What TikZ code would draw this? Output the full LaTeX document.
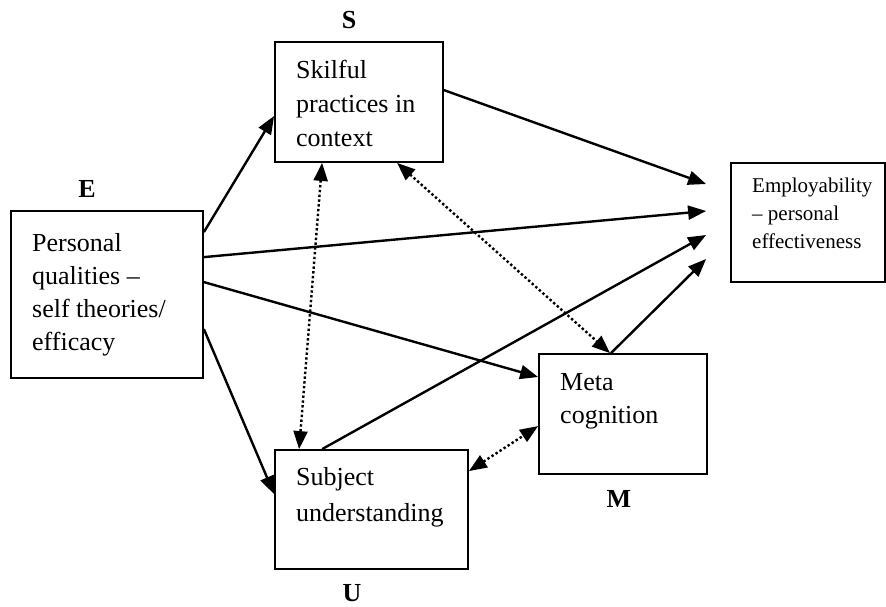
\documentclass[tikz,border=0pt]{standalone}
\usepackage{fontspec}
\setmainfont{Liberation Serif}
\usetikzlibrary{arrows.meta}
\begin{document}
\begin{tikzpicture}[x=1pt,y=-1pt,
  box/.style={draw,line width=1.8pt,inner sep=0pt,rectangle},
  txt/.style={inner sep=0pt,anchor=north west,align=left,font=\fontsize{26}{34}\selectfont},
  smalltxt/.style={inner sep=0pt,anchor=north west,align=left,font=\fontsize{21}{28}\selectfont},
  lbl/.style={inner sep=0pt,anchor=base,font=\fontsize{26}{34}\selectfont\bfseries},
  arr/.style={line width=2.4pt,-{Triangle[length=18pt,width=14pt]}},
  darr/.style={line width=2.4pt,dash pattern=on 2.4pt off 2.4pt,{Triangle[length=18pt,width=14pt]}-{Triangle[length=18pt,width=14pt]}}
]
\useasboundingbox (0,0) rectangle (886,606);
% boxes
\node[box,minimum width=168pt,minimum height=120pt] (S) at (359,102) {};
\node[box,minimum width=192pt,minimum height=167pt] (E) at (107,294.5) {};
\node[box,minimum width=154pt,minimum height=119pt] (P) at (808,222.5) {};
\node[box,minimum width=168pt,minimum height=120pt] (M) at (623,414) {};
\node[box,minimum width=193pt,minimum height=119pt] (U) at (371.5,509.5) {};
% texts
\node[txt] (St) at (296,60.2) {Skilful\\practices in\\context};
\node[txt,font=\fontsize{26}{33}\selectfont] (Et) at (32,233.2) {Personal\\qualities --\\self theories/\\efficacy};
\node[smalltxt] (Pt) at (752,177.7) {Employability\\-- personal\\effectiveness};
\node[txt,font=\fontsize{26}{33}\selectfont] (Mt) at (560,373.2) {Meta\\cognition};
\node[txt,font=\fontsize{26}{36}\selectfont] (Ut) at (296,467.2) {Subject\\understanding};
% letter labels
\node[lbl] (Sl) at (349,28) {S};
\node[lbl] (El) at (87,197) {E};
\node[lbl] (Ml) at (619,507) {M};
\node[lbl] (Ul) at (352,601) {U};
% solid arrows
\draw[arr] ([yshift=-22pt]E.north east) -- ([yshift=-14pt]S.west);
\draw[arr] ([yshift=-47pt]E.north east) -- ([xshift=-24pt,yshift=11.5pt]P.west);
\draw[arr] ([yshift=-72pt]E.north east) -- ([yshift=37pt]M.west);
\draw[arr] ([yshift=-119pt]E.north east) -- ([yshift=-45pt]U.north west);
\draw[arr] ([yshift=-49pt]S.north east) -- ([xshift=-24pt,yshift=38.5pt]P.west);
\draw[arr] ([xshift=48pt]U.north west) -- ([xshift=-24pt,yshift=-12.5pt]P.west);
\draw[arr] ([xshift=-12pt]M.north) -- ([xshift=-24pt,yshift=-36.5pt]P.west);
% dotted double arrows
\draw[darr] ([xshift=48pt]S.south west) -- ([xshift=25pt]U.north west);
\draw[darr] ([xshift=123pt]S.south west) -- ([xshift=-13pt]M.north);
\draw[darr] ([yshift=-22pt]U.north east) -- ([yshift=-73pt]M.north west);
\end{tikzpicture}
\end{document}
